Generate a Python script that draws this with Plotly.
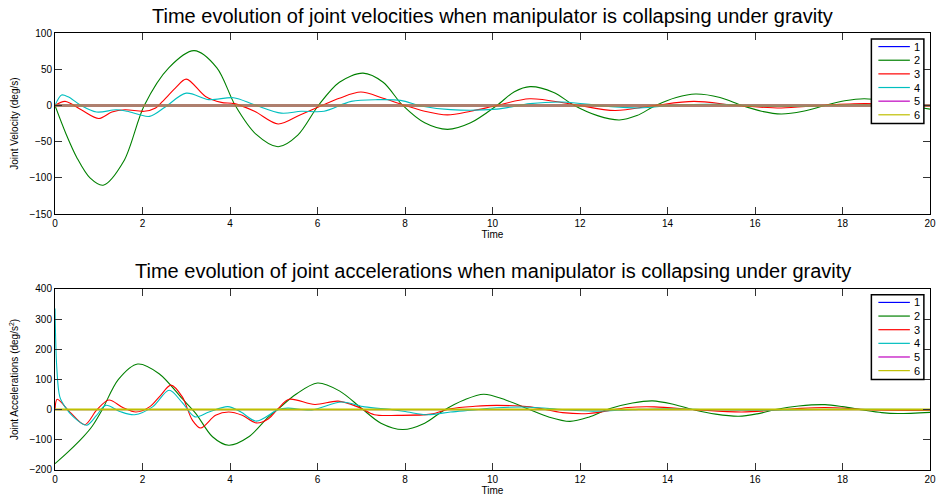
import plotly.graph_objects as go
from plotly.subplots import make_subplots

# ---------------- data ----------------
joint_names = ["1", "2", "3", "4", "5", "6"]
joint_colors = ["#0000ff", "#008000", "#ff0000", "#00bfbf", "#bf00bf", "#bfbf00"]

# joint velocities (deg/s)
vel_t_zero = [0, 20]
vel_zero = [0, 0]

vel2_t = [0, 0.25, 0.5, 0.8, 1.1, 1.57, 2.04, 2.6, 3.18, 3.7, 4.12, 4.6, 5.1, 5.55, 6.02, 6.5, 7.04,
          7.5, 7.95, 8.45, 8.97, 9.5, 10.1, 10.5, 10.86, 11.4, 11.87, 12.4, 12.9, 13.3,
          13.73, 14.2, 14.64, 15.2, 15.7, 16.15, 16.6, 17.1, 17.6, 18.05, 18.5, 19.0, 19.5, 20]
vel2 = [0, -39, -72, -100, -110, -77, 0, 52, 75.7, 52, 0, -40, -57, -41, 0, 32, 44.6,
        32, 0, -24, -33, -24, 0, 19, 26, 18, 0, -14, -20, -14,
        0, 11, 15.8, 11, 0, -8, -11.7, -8, 0, 6.5, 9.3, 6, 0, -5]

vel3_t = [0, 0.23, 0.6, 1.0, 1.3, 1.6, 2.04, 2.3, 2.46, 2.75, 3.0, 3.44, 3.8, 4.1, 4.56,
          5.1, 5.6, 6.1, 6.5, 6.99, 7.5, 7.95, 8.45, 8.97, 9.5, 10.1, 10.85, 11.8, 12.8,
          13.7, 14.6, 15.6, 16.6, 17.5, 18.5, 19.5, 20]
vel3 = [0, 5.6, -6, -18, -9, -6, -8, -3.5, 5.6, 24, 36.4, 12.5, 4.3, 2.5, -8,
        -25.5, -13, 0, 10, 18.5, 10, 1, -8, -13, -8, 0, 9.3, 2, -7,
        0, 5.6, 0, -3.5, 0, 2.5, 0.5, -1]

vel4_t = [0, 0.15, 0.3, 0.57, 0.95, 1.4, 1.65, 2.16, 2.52, 3.0, 3.52, 4.08, 4.56, 5.17,
          5.63, 6.15, 6.77, 7.38, 7.9, 8.4, 9.04, 10.1, 10.86, 11.6, 12.6, 13.35, 14.3,
          15.2, 16.2, 17.2, 18.2, 19.2, 20]
vel4 = [0, 14.4, 12, 1, -9, -6, -8, -15, -2, 17, 8, 10.7, 1, -10.5,
        -8, -8, 5.6, 8, 7, -1, -5.8, -5, 2.5, 4.8, -1, -3.5, 1,
        1.5, -1, -1, 1, 0.5, 0]

# joint accelerations (deg/s^2)
acc2_t = [0, 0.3, 0.64, 0.85, 1.08, 1.45, 1.89, 2.38, 2.91, 3.22, 3.6, 3.97, 4.43, 4.88, 5.11,
          5.5, 6.0, 6.5, 7.0, 7.45, 7.95, 8.45, 8.89, 9.35, 9.8, 10.3, 10.8, 11.3, 11.77,
          12.2, 12.67, 13.2, 13.66, 14.15, 14.64, 15.1, 15.63, 16.05, 16.5, 17.0, 17.6,
          18.0, 18.5, 18.9, 19.26, 20]
acc2 = [-179, -140, -91, -55, 0, 100, 151, 119, 36, -13, -90, -118, -90, -24, 3,
        50, 88, 62, 5, -45, -66, -45, -2, 32, 51, 32, 3, -25, -39,
        -25, 3, 22, 29, 17, -2, -15, -22, -14, 1, 12, 16.5,
        10, -2, -10, -13, -9]

acc3_t = [0, 0.05, 0.34, 0.68, 0.95, 1.23, 1.55, 1.85, 2.16, 2.4, 2.65, 2.91, 3.14, 3.33,
          3.67, 3.97, 4.28, 4.6, 4.88, 5.1, 5.35, 5.94, 6.47, 6.92, 7.3, 7.83, 8.59,
          9.04, 9.6, 10.1, 10.86, 11.6, 12.2, 13.1, 13.7, 14.64, 15.7, 16.9, 17.6, 18.6, 20]
acc3 = [0, 34, -8, -50, -2, 32, 7, -8, 9, 45, 81, 42, -35, -61,
        -19, -8, -19, -44, -30, 3, 34, 17, 28, 9, -17, -19, -15,
        3, 11, 14, 9, -10, -13, 7, 9, 0, -8, 3, 7, 0, -3]

acc4_t = [0, 0.04, 0.11, 0.23, 0.42, 0.72, 0.95, 1.16, 1.48, 1.82, 2.23, 2.61, 2.91, 3.2,
          3.52, 3.95, 4.25, 4.6, 5.1, 5.32, 5.87, 6.55, 7.08, 7.7, 8.06, 8.51, 9.04, 9.5,
          10.1, 10.86, 11.6, 12.3, 13.2, 14.0, 15.0, 16.0, 17.0, 18.0, 20]
acc4 = [335, 141, 42, 9, -24, -52, -19, 14, -6, -17, 9, 64, 23, -24,
        -8, 10, -8, -38, 0, 5, -1, 25, 9, 0, -8, -17, -8, -2,
        6, 8, 0, -5, 0, 3, 0, -2, 0, 1, 0]

x_ticks = [0, 2, 4, 6, 8, 10, 12, 14, 16, 18, 20]
vel_ticks = [-150, -100, -50, 0, 50, 100]
acc_ticks = [-200, -100, 0, 100, 200, 300, 400]

titles = ["Time evolution of joint velocities when manipulator is collapsing under gravity",
          "Time evolution of joint accelerations when manipulator is collapsing under gravity"]
y_titles = ["Joint Velocity (deg/s)", "Joint Accelerations (deg/s<sup>2</sup>)"]

# ---------------- figure ----------------
W, H = 941, 499
ml, mr, mt, mb = 55, 5, 33, 27
plot_h = H - mt - mb
panel_h = 182

fig = make_subplots(rows=2, cols=1, vertical_spacing=(plot_h - 2 * panel_h) / plot_h)

FONT = "Liberation Sans, Arial, Helvetica, sans-serif"

vel_series = {
    "1": (vel_t_zero, vel_zero), "2": (vel2_t, vel2), "3": (vel3_t, vel3),
    "4": (vel4_t, vel4), "5": (vel_t_zero, vel_zero), "6": (vel_t_zero, vel_zero)}
acc_series = {
    "1": (vel_t_zero, vel_zero), "2": (acc2_t, acc2), "3": (acc3_t, acc3),
    "4": (acc4_t, acc4), "5": (vel_t_zero, vel_zero), "6": (vel_t_zero, vel_zero)}

for row, series in ((1, vel_series), (2, acc_series)):
    for name, color in zip(joint_names, joint_colors):
        t, v = series[name]
        flat = name in ("1", "5", "6")
        opacity = 1.0
        if row == 1 and flat:
            line = dict(color=color, width=3)
            opacity = 0.5
        elif flat:
            line = dict(color=color, width=2 if name == "6" else 1)
        else:
            line = dict(color=color, width=1.1, shape="spline", smoothing=0.9)
        fig.add_trace(go.Scatter(x=t, y=v, mode="lines", name=name, line=line,
                                 opacity=opacity, showlegend=False, hoverinfo="skip"),
                      row=row, col=1)

axis_common = dict(showline=True, linecolor="black", linewidth=1, mirror="ticks",
                   ticks="inside", ticklen=7, tickwidth=1, tickcolor="#333333",
                   showgrid=False, zeroline=False,
                   tickfont=dict(family=FONT, size=10, color="black"))

for row in (1, 2):
    fig.update_xaxes(range=[0, 20], tickvals=x_ticks, ticktext=[str(v) for v in x_ticks],
                     title=dict(text="Time", font=dict(family=FONT, size=10, color="black"),
                                standoff=2),
                     row=row, col=1, **axis_common)

fig.update_yaxes(range=[-150, 100], tickvals=vel_ticks,
                 title=dict(text=y_titles[0], font=dict(family=FONT, size=10, color="black"),
                            standoff=8),
                 row=1, col=1, **axis_common)
fig.update_yaxes(range=[-200, 400], tickvals=acc_ticks,
                 title=dict(text=y_titles[1], font=dict(family=FONT, size=10, color="black"),
                            standoff=8),
                 row=2, col=1, **axis_common)

annotations = []
shapes = []
for i, (xr, yr) in enumerate((("x domain", "y domain"), ("x2 domain", "y2 domain"))):
    annotations.append(dict(text=titles[i], xref=xr, yref=yr, x=0.5, y=1.093 if i == 0 else 1.099,
                            xanchor="center", yanchor="middle", showarrow=False,
                            font=dict(family=FONT, size=20, color="black")))
    # legend box
    shapes.append(dict(type="rect", xref=xr, yref=yr, x0=0.933, x1=0.993, y0=0.5, y1=0.967,
                       line=dict(color="black", width=1.5), fillcolor="white", layer="above"))
    for k, (name, color) in enumerate(zip(joint_names, joint_colors)):
        yy = 0.925 - k * 0.0753
        shapes.append(dict(type="line", xref=xr, yref=yr, x0=0.941, x1=0.977, y0=yy, y1=yy,
                           line=dict(color=color, width=1.2), layer="above"))
        annotations.append(dict(text=name, xref=xr, yref=yr, x=0.979, y=yy,
                                xanchor="left", yanchor="middle", showarrow=False,
                                font=dict(family=FONT, size=11, color="black")))

fig.update_layout(width=W, height=H, margin=dict(l=ml, r=mr, t=mt, b=mb),
                  paper_bgcolor="white", plot_bgcolor="white",
                  annotations=annotations, shapes=shapes, showlegend=False,
                  font=dict(family=FONT))

fig.write_html("out.html")
